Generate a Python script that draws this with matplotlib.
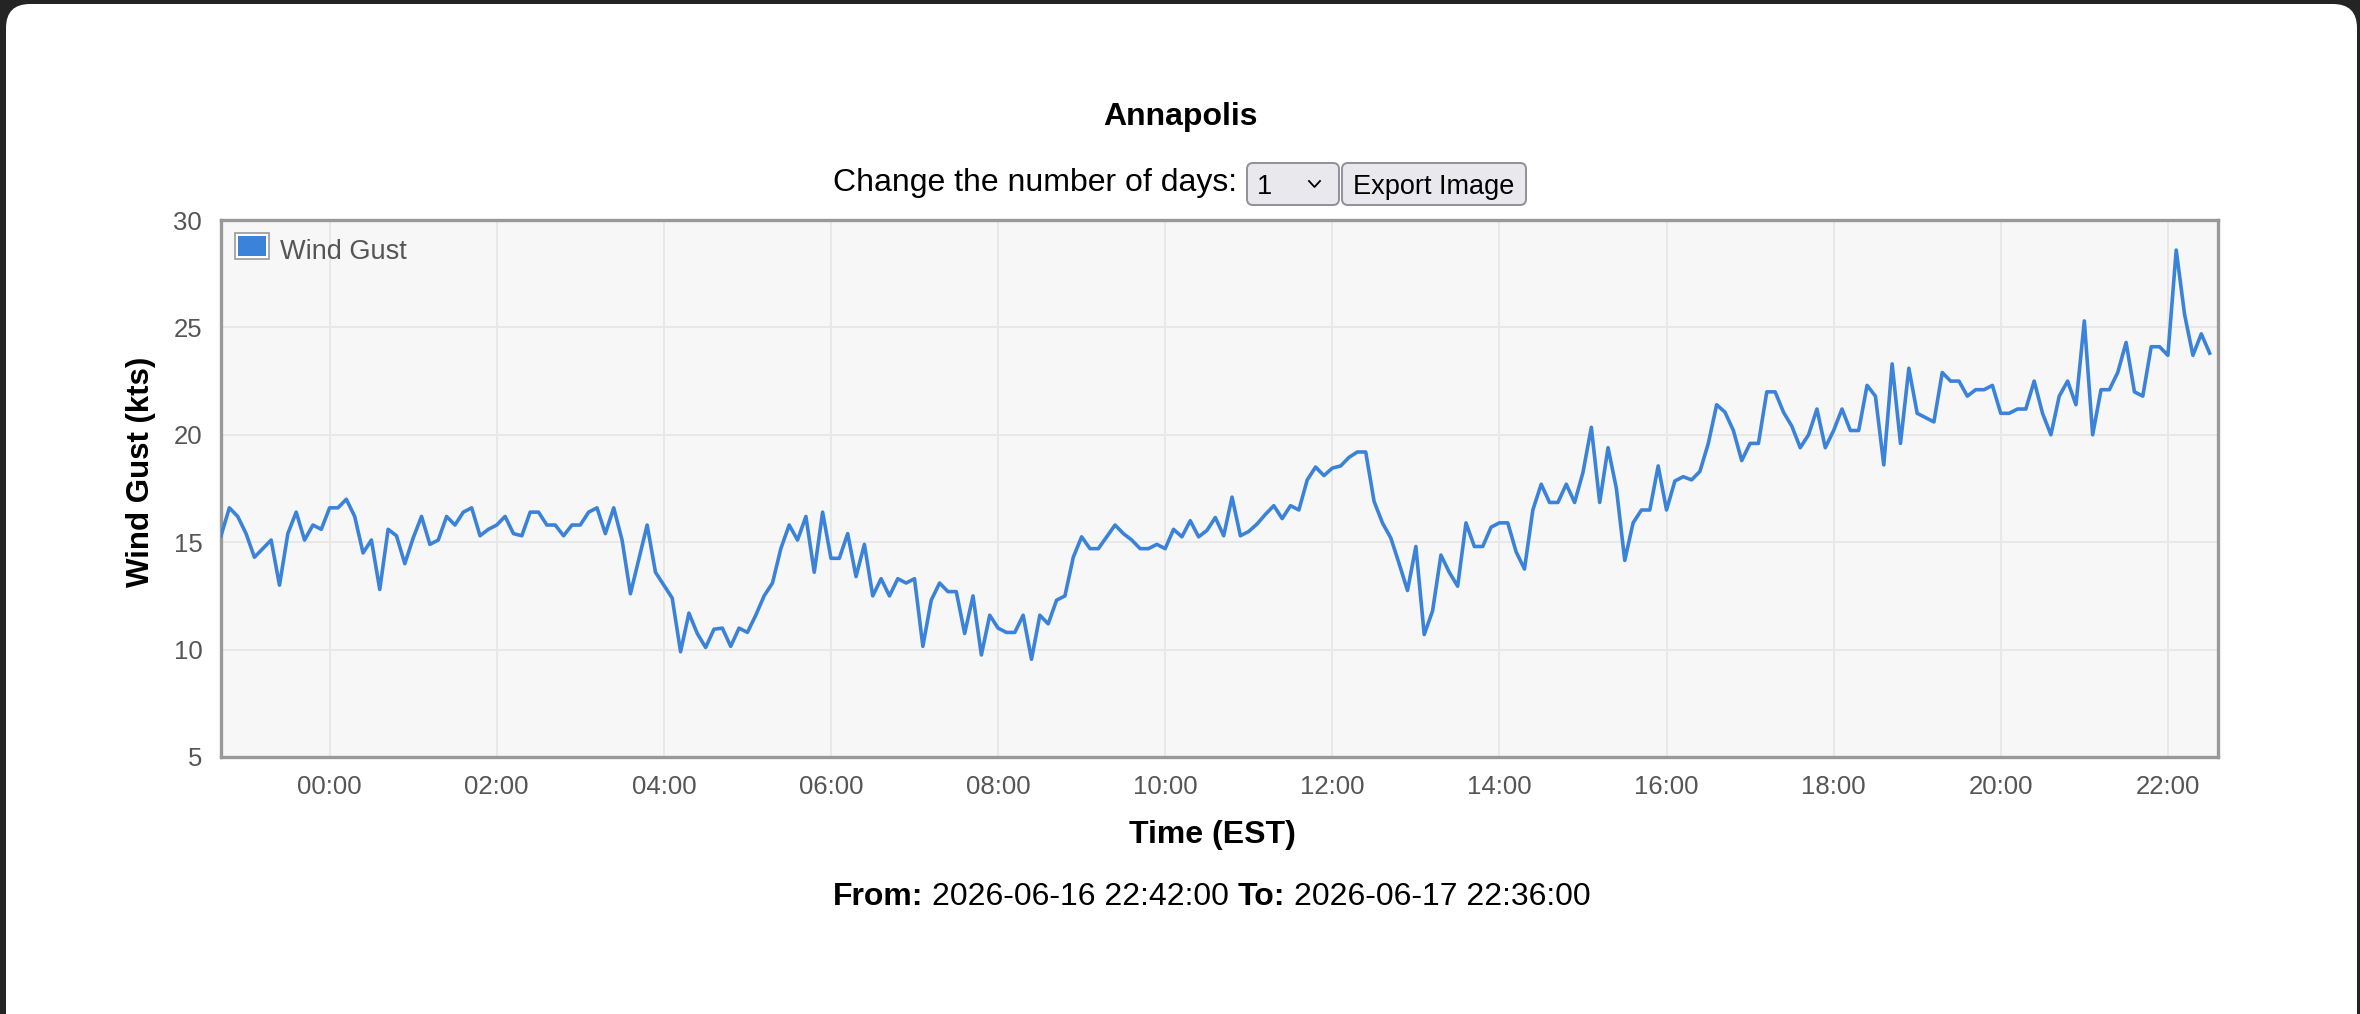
import matplotlib
matplotlib.use('Agg')
import matplotlib.pyplot as plt
import matplotlib.dates as mdates
from matplotlib.patches import FancyBboxPatch, Rectangle
from matplotlib.lines import Line2D
import pandas as pd

W, H = 2360, 1014
plt.rcParams['font.family'] = ['Liberation Sans', 'DejaVu Sans']

station = 'Annapolis'
start = '2026-06-16 22:42:00'
end = '2026-06-17 22:36:00'
days_choice = '1'

# wind gust readings (kts), one every 6 minutes
gust = [
    15.3, 16.6, 16.2, 15.4, 14.3, 14.7, 15.1, 13.0, 15.4, 16.4,
    15.1, 15.8, 15.6, 16.6, 16.6, 17.0, 16.2, 14.5, 15.1, 12.8,
    15.6, 15.3, 14.0, 15.2, 16.2, 14.9, 15.1, 16.2, 15.8, 16.4,
    16.6, 15.3, 15.6, 15.8, 16.2, 15.4, 15.3, 16.4, 16.4, 15.8,
    15.8, 15.3, 15.8, 15.8, 16.4, 16.6, 15.4, 16.6, 15.1, 12.6,
    14.2, 15.8, 13.6, 13.0, 12.4, 9.9, 11.7, 10.75, 10.1, 10.95,
    11.0, 10.15, 11.0, 10.8, 11.6, 12.5, 13.1, 14.7, 15.8, 15.1,
    16.2, 13.6, 16.4, 14.25, 14.25, 15.4, 13.4, 14.9, 12.5, 13.3,
    12.5, 13.3, 13.1, 13.3, 10.15, 12.3, 13.1, 12.7, 12.7, 10.75,
    12.5, 9.75, 11.6, 11.0, 10.8, 10.8, 11.6, 9.55, 11.6, 11.2,
    12.3, 12.5, 14.3, 15.25, 14.7, 14.7, 15.25, 15.8, 15.4, 15.1,
    14.7, 14.7, 14.9, 14.7, 15.6, 15.25, 16.0, 15.25, 15.55, 16.15,
    15.3, 17.1, 15.3, 15.5, 15.85, 16.3, 16.7, 16.1, 16.7, 16.5,
    17.9, 18.5, 18.1, 18.45, 18.55, 18.95, 19.2, 19.2, 16.9, 15.9,
    15.2, 14.0, 12.75, 14.8, 10.7, 11.8, 14.4, 13.6, 12.95, 15.9,
    14.8, 14.8, 15.7, 15.9, 15.9, 14.55, 13.75, 16.5, 17.7, 16.85,
    16.85, 17.7, 16.85, 18.25, 20.35, 16.85, 19.4, 17.5, 14.15, 15.9,
    16.5, 16.5, 18.55, 16.5, 17.85, 18.05, 17.9, 18.3, 19.6, 21.4,
    21.05, 20.2, 18.8, 19.6, 19.6, 22.0, 22.0, 21.05, 20.4, 19.4,
    20.0, 21.2, 19.4, 20.2, 21.2, 20.2, 20.2, 22.3, 21.8, 18.6,
    23.3, 19.6, 23.1, 21.0, 20.8, 20.6, 22.9, 22.5, 22.5, 21.8,
    22.1, 22.1, 22.3, 21.0, 21.0, 21.2, 21.2, 22.5, 21.0, 20.0,
    21.8, 22.5, 21.4, 25.3, 20.0, 22.1, 22.1, 22.9, 24.3, 22.0,
    21.8, 24.1, 24.1, 23.7, 28.6, 25.6, 23.7, 24.7, 23.8,
]
times = pd.date_range(start, periods=len(gust), freq='6min')
y_ticks = [5, 10, 15, 20, 25, 30]


def inch(x, y):
    # pixel position (from top-left) -> inches for dpi_scale_trans
    return x / 100, (H - y) / 100


fig = plt.figure(figsize=(W / 100, H / 100), dpi=100, facecolor='#242424')
tr = fig.dpi_scale_trans

# white browser page with rounded corners
page = FancyBboxPatch(inch(6, 1060), (2357 - 6) / 100, (1060 - 4) / 100,
                      boxstyle='round,pad=0,rounding_size=0.24',
                      transform=tr, fc='white', ec='none', zorder=-1)
fig.add_artist(page)

# -- title and controls --
fig.text(1180 / W, 1 - 125 / H, station, ha='center', va='baseline',
         fontsize=23, fontweight='bold')
fig.text(1237 / W, 1 - 191 / H, 'Change the number of days:', ha='right',
         va='baseline', fontsize=23)

for x0, x1 in [(1247, 1339), (1342, 1526)]:
    box = FancyBboxPatch(inch(x0, 205), (x1 - x0) / 100, 0.42,
                         boxstyle='round,pad=0,rounding_size=0.06',
                         transform=tr, fc='#e9e9ed', ec='#8f8f9d', lw=1.4)
    fig.add_artist(box)
fig.text(1257 / W, 1 - 194 / H, days_choice, ha='left', va='baseline', fontsize=19.5)
cx, cy = zip(inch(1309, 181), inch(1314.5, 187), inch(1320, 181))
fig.add_artist(Line2D(cx, cy, transform=tr, color='black', lw=1.3))
fig.text(1434 / W, 1 - 194 / H, 'Export Image', ha='center', va='baseline', fontsize=19.5)

# -- chart --
ax = fig.add_axes([221 / W, 1 - 757 / H, (2218 - 221) / W, (757 - 220) / H])
ax.set_facecolor('#f7f7f7')
ax.plot(times, gust, color='#3b83da', lw=2.6, zorder=3)
ax.set_xlim(pd.Timestamp(start), pd.Timestamp(end))
ax.set_ylim(5, 30)
ax.set_yticks(y_ticks)
ax.xaxis.set_major_locator(mdates.HourLocator(byhour=range(0, 24, 2)))
ax.xaxis.set_major_formatter(mdates.DateFormatter('%H:%M'))
ax.grid(True, color='#e8e8e8', lw=1.4)
ax.set_axisbelow(True)
for s in ax.spines.values():
    s.set_color('#999999')
    s.set_linewidth(2.4)
ax.tick_params(axis='both', length=0, labelsize=18.5, labelcolor='#555555')
ax.tick_params(axis='y', pad=13.5)
ax.tick_params(axis='x', pad=13)

# legend box drawn by hand
fig.add_artist(Rectangle(inch(235, 259), 0.34, 0.26, transform=tr,
                         fc='white', ec='#999999', lw=1.2))
fig.add_artist(Rectangle(inch(238, 256), 0.28, 0.20, transform=tr,
                         fc='#3b83da', ec='none'))
fig.text(280 / W, 1 - 259 / H, 'Wind Gust', ha='left', va='baseline',
         fontsize=19.5, color='#555555')

fig.text(141 / W, 1 - 472 / H, 'Wind Gust (kts)', rotation=90, ha='center',
         va='center', fontsize=22.5, fontweight='bold')
fig.text(1212 / W, 1 - 843 / H, 'Time (EST)', ha='center', va='baseline',
         fontsize=23, fontweight='bold')

# -- From / To line, mixed weights --
r = fig.canvas.get_renderer()
pieces = [('From:', 'bold'), (start, 'normal'), ('To:', 'bold'), (end, 'normal')]
probe = fig.text(0, 0, 'a a', fontsize=23)
gap = probe.get_window_extent(r).width
probe.set_text('aa')
gap -= probe.get_window_extent(r).width
probe.remove()

parts = []
for s, wgt in pieces:
    parts.append(fig.text(0, 1 - 905 / H, s, fontsize=23, fontweight=wgt,
                          ha='left', va='baseline'))
widths = [t.get_window_extent(r).width for t in parts]
xpos = 1212 - (sum(widths) + gap * (len(parts) - 1)) / 2
for t, w in zip(parts, widths):
    t.set_x(xpos / W)
    xpos += w + gap

fig.savefig('out.png', dpi=100, facecolor=fig.get_facecolor())
